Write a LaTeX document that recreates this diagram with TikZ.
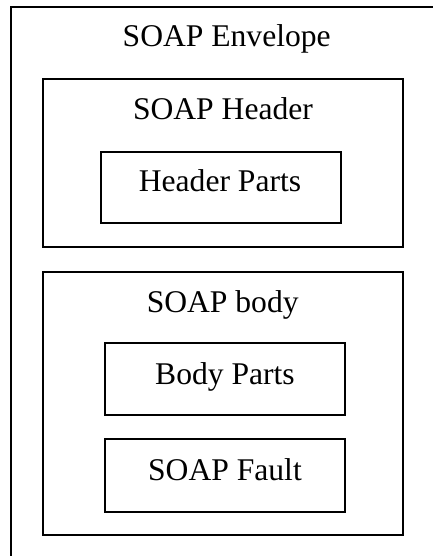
\documentclass[tikz,border=0pt]{standalone}
\usepackage{fontspec}
\setmainfont{Liberation Serif}
\begin{document}
\begin{tikzpicture}[x=1pt,y=-1pt,
  box/.style={draw=black, line width=1.3pt, inner sep=0pt, outer sep=0pt, anchor=north west},
  lbl/.style={anchor=base, inner sep=0pt, font=\fontsize{31.6}{38}\selectfont}]
\useasboundingbox (0,0) rectangle (433,556);
\fill[white] (0,0) rectangle (433,556);
% boxes
\node[box, minimum width=440pt, minimum height=570pt] (envelope) at (11,7) {};
\node[box, minimum width=360pt, minimum height=168pt] (header) at (43,79) {};
\node[box, minimum width=240pt, minimum height=71pt] (hparts) at (101,152) {};
\node[box, minimum width=360pt, minimum height=263pt] (body) at (43,272) {};
\node[box, minimum width=240pt, minimum height=72pt] (bparts) at (105,343) {};
\node[box, minimum width=240pt, minimum height=73pt] (fault) at (105,439) {};
% labels
\node[lbl] (envlbl) at (226.7,46.7) {SOAP Envelope};
\node[lbl] (hdrlbl) at (223,120) {SOAP Header};
\node[lbl] (hplbl) at (220,191.7) {Header Parts};
\node[lbl] (bodylbl) at (222.7,312) {SOAP body};
\node[lbl] (bplbl) at (225,384) {Body Parts};
\node[lbl] (faultlbl) at (225,480) {SOAP Fault};
\end{tikzpicture}
\end{document}
